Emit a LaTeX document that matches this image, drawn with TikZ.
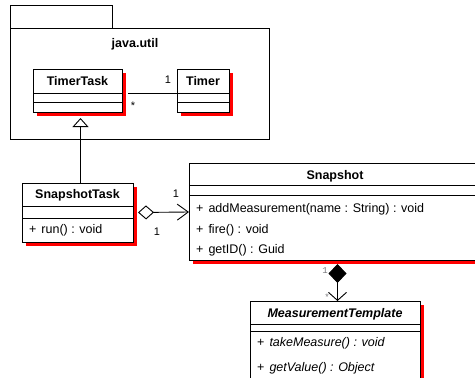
\documentclass[tikz,border=0pt]{standalone}
\usepackage{fontspec}
\setmainfont{Liberation Sans}
\newfontfamily\multfont{Liberation Mono}
\usetikzlibrary{arrows.meta}
\definecolor{shadowgray}{RGB}{255,0,0}
\definecolor{labelgray}{RGB}{120,120,124}

\tikzset{
  pkg/.style={draw,line width=1pt,anchor=north west,inner sep=0pt},
  umlclass/.style={draw,line width=1pt,fill=white,anchor=north west,inner sep=0pt},
  clsname/.style={font=\bfseries,anchor=base,inner sep=0pt},
  member/.style={anchor=base west,inner sep=0pt},
  mult/.style={font=\fontsize{11}{13}\selectfont,inner sep=0pt},
  multgray/.style={font=\multfont\fontsize{9}{11}\selectfont,text=labelgray,inner sep=0pt},
  assoc/.style={line width=0.9pt},
}

\begin{document}
\fontsize{12.5}{15}\selectfont
\begin{tikzpicture}[x=1pt,y=-1pt]
            \useasboundingbox (0,0) rectangle (475,378);

            % package java.util
            \node (pkgtab) at (10,5) [pkg,minimum width=102pt,minimum height=23pt] {};
            \node (pkgbody) at (10,28) [pkg,minimum width=259pt,minimum height=111pt] {};
            \node (pkglbl) at (135,47.5) [clsname] {java.util};

            % shadows
            \fill[shadowgray] (37,73) rectangle (126,116);
            \fill[shadowgray] (181,73) rectangle (233,116);
            \fill[shadowgray] (26,186.5) rectangle (137,245.5);
            \fill[shadowgray] (193,167) rectangle (485,264);
            \fill[shadowgray] (254,305) rectangle (424,388);

            % classes
            \node (timertask) at (33,69) [umlclass,minimum width=89pt,minimum height=43pt] {};
            \node (timer) at (177,69) [umlclass,minimum width=52pt,minimum height=43pt] {};
            \node (snapshottask) at (22,182.5) [umlclass,minimum width=111pt,minimum height=59pt] {};
            \node (snapshot) at (189,163) [umlclass,minimum width=292pt,minimum height=97pt] {};
            \node (mtemplate) at (250,301) [umlclass,minimum width=170pt,minimum height=83pt] {};

            \foreach \c/\a/\b in {timertask/24/33,timer/24/33,snapshottask/24/36,snapshot/22.5/32.5,mtemplate/23/30}
              \draw[line width=1pt] ([yshift=-\a pt]\c.north west) -- ([yshift=-\a pt]\c.north east)
                ([yshift=-\b pt]\c.north west) -- ([yshift=-\b pt]\c.north east);

            \node (timertasklbl) at (77.5,85.5) [clsname] {TimerTask};
            \node (timerlbl) at (203,85.5) [clsname] {Timer};
            \node (snapshottasklbl) at (77.5,198.5) [clsname] {SnapshotTask};
            \node (snapshotlbl) at (335,179) [clsname] {Snapshot};
            \node (mtemplatelbl) at (335,317) [clsname,font=\bfseries\itshape] {MeasurementTemplate};

            \node (runm) at (29,233.5) [member] {+\hspace{5pt}run() : void};
            \node (addm) at (196,212.5) [member] {+\hspace{5pt}addMeasurement(name : String) : void};
            \node (firem) at (196,233.5) [member] {+\hspace{5pt}fire() : void};
            \node (getidm) at (196,253.5) [member] {+\hspace{5pt}getID() : Guid};
            \node (takem) at (257,346.5) [member] {+\hspace{5pt}\itshape takeMeasure() : void};
            \node (getvalm) at (257,371.5) [member] {+\hspace{5pt}\itshape getValue() : Object};

            % connectors
            \draw[assoc] ([xshift=5pt,yshift=-2.5pt]timertask.east) -- ([yshift=-2.5pt]timer.west);
            \draw[assoc,-{Triangle[open,fill=white,length=9pt,width=16pt]}] ([xshift=2.5pt]snapshottask.north) -- ([xshift=2.5pt,yshift=-5pt]timertask.south);
            \draw[assoc,{Diamond[open,fill=white,length=16pt,width=14pt]}-{Straight Barb[length=11pt,width=16pt]}] ([xshift=4pt]snapshottask.east) -- (snapshot.west);
            \draw[assoc,{Diamond[length=19pt,width=18pt]}-{Straight Barb[length=8pt,width=18pt]}] ([xshift=2pt,yshift=-3pt]snapshot.south) -- ([xshift=2pt]mtemplate.north);

            % multiplicities
            \node (timerone) at (168,80) [mult] {1};
            \node (timertaskmany) at (133,106) [mult] {*};
            \node (aggone) at (176,194) [mult] {1};
            \node (aggtwo) at (157,232) [mult] {1};
            \node (compone) at (325,271) [multgray] {1};
            \node (compmany) at (327,297) [multgray] {*};
        \end{tikzpicture}
\end{document}
